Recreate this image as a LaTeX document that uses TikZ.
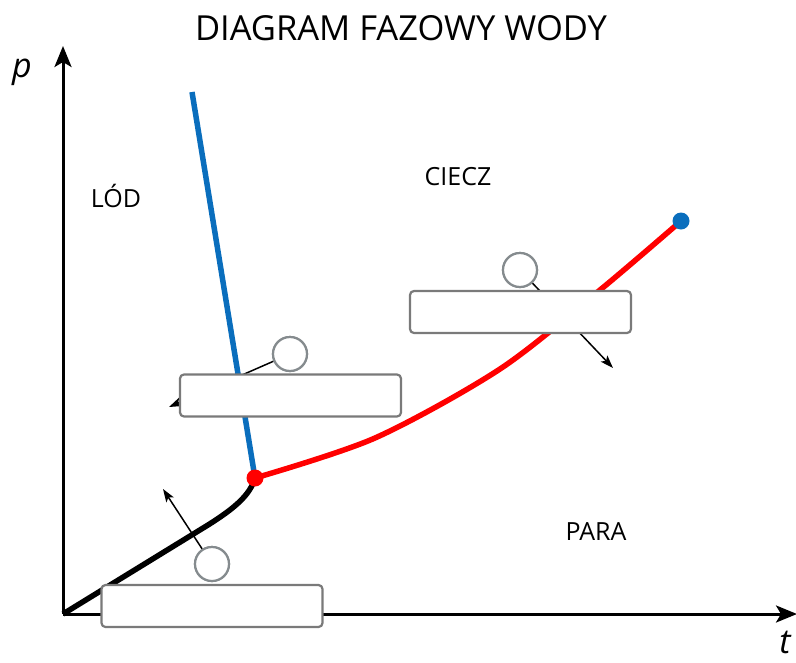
\documentclass[tikz,border=0pt]{standalone}
\usepackage{fontspec}
\setmainfont{Open Sans}
\usetikzlibrary{arrows.meta}
\definecolor{iceblue}{HTML}{0A6EBD}
\definecolor{boxgray}{HTML}{7A7A7A}
\definecolor{circgray}{HTML}{858B8E}
\tikzset{
  axis/.style={line width=3pt,-{Stealth[length=21pt,width=17pt,inset=5pt]}},
  curve/.style={line width=5.5pt},
  ptr/.style={line width=1.5pt,-{Stealth[length=13pt,width=9pt,inset=3pt]}},
  labelbox/.style={draw=boxgray,line width=2.2pt,fill=white,rounded corners=4pt,minimum width=221pt,minimum height=42pt,inner sep=0pt},
  marker/.style={draw=circgray,line width=2.2pt,fill=white,circle,minimum size=34pt,inner sep=0pt},
  region/.style={font=\fontsize{25}{25}\selectfont,inner sep=0pt},
}
\begin{document}
\begin{tikzpicture}[x=1pt,y=-1pt]
\useasboundingbox (0,0) rectangle (796,662);
\node[font=\fontsize{34.5}{34.5}\selectfont,inner sep=0pt] (title) at (401,28) {DIAGRAM FAZOWY WODY};
% axes
\coordinate (O) at (63,614);
\coordinate (ytip) at (63,46);
\coordinate (xtip) at (797,614);
\draw[axis] (O) -- (ytip);
\draw[axis] (O) -- (xtip);
\node[font=\fontsize{34}{34}\itshape\selectfont,inner sep=0pt] (plab) at (22,72) {p};
\node[font=\fontsize{34}{34}\itshape\selectfont,inner sep=0pt] (tlab) at (785,642) {t};
% region labels
\node[region] (lod) at (116,196) {LÓD};
\node[region] (ciecz) at (458,177) {CIECZ};
\node[region] (para) at (596,532) {PARA};
% curves
\coordinate (T) at (255,478);
\coordinate (C) at (681,221);
\coordinate (B) at (192,92);
\draw[curve,iceblue] (B) -- (T);
\draw[curve,black] (O) -- (208,525) .. controls (235,508) and (250,495) .. (T);
\draw[curve,red,line join=round] plot[smooth,tension=0.5] coordinates {(255,478) (375,438) (500,369) (600,290) (681,221)};
\fill[red] (T) circle (8.5pt);
\fill[iceblue] (C) circle (8.5pt);
% arrows
\node[marker] (c1) at (290,354) {};
\node[marker] (c2) at (520,270) {};
\node[marker] (c3) at (212,564) {};
\coordinate (a1) at (169,407);
\coordinate (a2) at (613,368);
\coordinate (a3) at (163,489);
\draw[ptr] (c1) -- (a1);
\draw[ptr] (c2) -- (a2);
\draw[ptr] (c3) -- (a3);
% boxes
\node[labelbox] (b1) at (290.5,395.5) {};
\node[labelbox] (b2) at (520.5,312) {};
\node[labelbox] (b3) at (212,606) {};
\node[marker] at (c1) {};
\node[marker] at (c2) {};
\node[marker] at (c3) {};
\end{tikzpicture}
\end{document}
